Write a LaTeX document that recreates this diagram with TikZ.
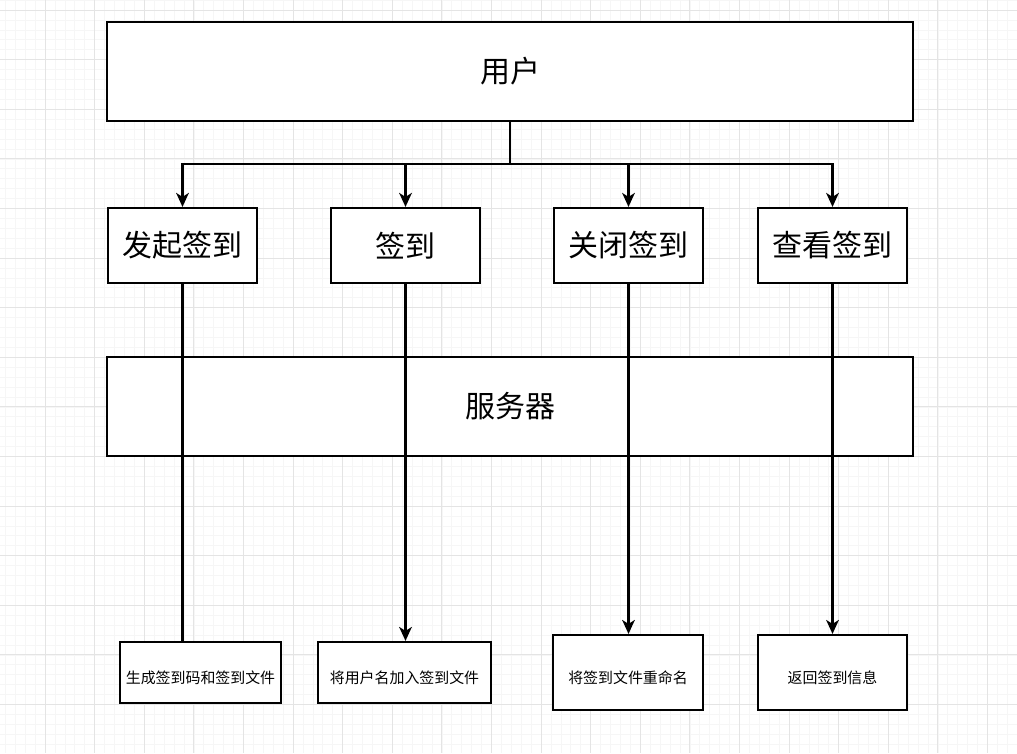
\documentclass[tikz,border=0pt]{standalone}
\usepackage{fontspec}
\newfontfamily\cjk{Noto Sans CJK SC}
\usetikzlibrary{arrows.meta}
\definecolor{gridminor}{HTML}{F6F6F6}
\definecolor{gridmajor}{HTML}{E4E4E4}
\newcommand{\lowtxt}[1]{\raisebox{-8.5pt}[0pt][0pt]{#1}}
\tikzset{
  box/.style={draw=black, line width=1.6pt, fill=white, inner sep=0pt, font=\cjk, text=black},
  bigbox/.style={box, font=\cjk\fontsize{22.5}{26}\selectfont},
  smallbox/.style={box, font=\cjk\fontsize{11.2}{13}\selectfont},
  wire/.style={draw=black, line width=1.6pt},
  arr/.style={wire, -{Stealth[length=10.5pt, width=9.5pt, inset=3pt]}},
}
\begin{document}
\begin{tikzpicture}[x=0.75pt, y=-0.75pt]
\useasboundingbox (0,0) rectangle (1017,753);
\fill[white] (0,0) rectangle (1017,753);
% grid
\foreach \i in {0,...,103} {
  \draw[gridminor, line width=0.45pt] ({-4.6+9.92*\i},0) -- ({-4.6+9.92*\i},753);
}
\foreach \i in {0,...,76} {
  \draw[gridminor, line width=0.45pt] (0,{0.08+9.92*\i}) -- (1017,{0.08+9.92*\i});
}
\foreach \i in {0,...,21} {
  \draw[gridmajor, line width=0.6pt] ({-4.6+49.6*\i},0) -- ({-4.6+49.6*\i},753);
}
\foreach \i in {0,...,15} {
  \draw[gridmajor, line width=0.6pt] (0,{10+49.6*\i}) -- (1017,{10+49.6*\i});
}
% boxes
\node[bigbox, minimum width=806*0.75pt, minimum height=99*0.75pt] (user) at (510,71.5) {用户};
\node[bigbox, minimum width=149*0.75pt, minimum height=75*0.75pt] (b1) at (182.5,245.5) {发起签到};
\node[bigbox, minimum width=149*0.75pt, minimum height=75*0.75pt] (b2) at (405.5,245.5) {签到};
\node[bigbox, minimum width=149*0.75pt, minimum height=75*0.75pt] (b3) at (628.5,245.5) {关闭签到};
\node[bigbox, minimum width=149*0.75pt, minimum height=75*0.75pt] (b4) at (832.5,245.5) {查看签到};
\node[bigbox, minimum width=806*0.75pt, minimum height=99*0.75pt] (srv) at (510,406.5) {服务器};
\node[smallbox, minimum width=161*0.75pt, minimum height=61*0.75pt] (c1) at (200.5,672.5) {\lowtxt{生成签到码和签到文件}};
\node[smallbox, minimum width=173*0.75pt, minimum height=61*0.75pt] (c2) at (404.5,672.5) {\lowtxt{将用户名加入签到文件}};
\node[smallbox, minimum width=150*0.75pt, minimum height=75*0.75pt] (c3) at (628,672.5) {\lowtxt{将签到文件重命名}};
\node[smallbox, minimum width=149*0.75pt, minimum height=75*0.75pt] (c4) at (832.5,672.5) {\lowtxt{返回签到信息}};
% connectors from user
\coordinate (j) at (510,164);
\draw[arr] (user.south) -- (j) -| (b1.north);
\draw[arr] (user.south) -- (j) -| (b2.north);
\draw[arr] (user.south) -- (j) -| (b3.north);
\draw[arr] (user.south) -- (j) -| (b4.north);
% connectors down through server
\draw[wire] (b1.south) -- (b1.south |- c1.north);
\draw[arr] (b2.south) -- (b2.south |- c2.north);
\draw[arr] (b3.south) -- (b3.south |- c3.north);
\draw[arr] (b4.south) -- (b4.south |- c4.north);
\end{tikzpicture}
\end{document}
